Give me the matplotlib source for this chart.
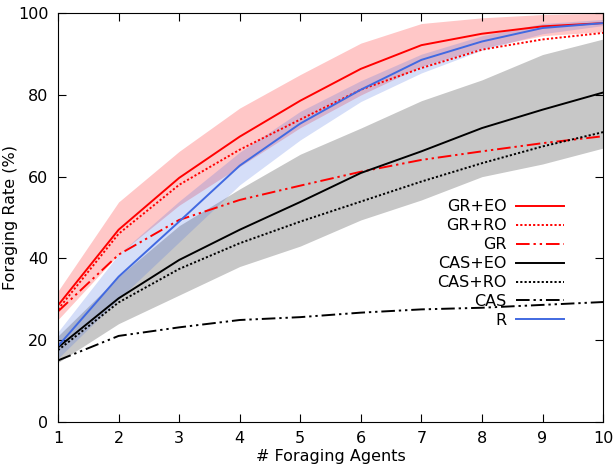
import matplotlib
matplotlib.use("Agg")
import matplotlib.pyplot as plt
import numpy as np

agents = [1, 2, 3, 4, 5, 6, 7, 8, 9, 10]

gr_eo = [28.5, 47.0, 59.7, 69.8, 78.6, 86.4, 92.2, 95.0, 96.8, 97.6]
gr_ro = [27.5, 46.0, 58.0, 66.6, 74.0, 81.3, 86.6, 91.1, 93.6, 95.2]
gr = [27.0, 40.9, 49.4, 54.3, 57.8, 61.2, 64.1, 66.2, 68.2, 69.9]
cas_eo = [18.2, 30.2, 39.6, 47.0, 53.8, 60.9, 66.2, 71.9, 76.4, 80.6]
cas_ro = [17.5, 29.2, 37.4, 43.7, 49.0, 53.9, 58.8, 63.3, 67.4, 70.9]
cas = [15.0, 21.0, 23.1, 24.9, 25.6, 26.7, 27.5, 27.9, 28.6, 29.3]
r = [18.5, 35.5, 49.0, 62.7, 73.0, 81.3, 88.6, 93.1, 96.4, 97.6]

# shaded ranges
gr_eo_lo = [25.0, 41.0, 53.0, 62.5, 72.0, 80.0, 87.0, 91.5, 94.5, 95.5]
gr_eo_hi = [32.0, 53.8, 66.2, 76.8, 85.0, 92.7, 97.5, 98.9, 99.7, 100.0]
r_lo = [15.5, 30.0, 44.0, 58.0, 69.0, 78.4, 85.4, 91.0, 95.0, 97.0]
r_hi = [22.0, 41.0, 54.0, 66.0, 76.0, 83.5, 90.0, 94.5, 97.5, 98.5]
cas_eo_lo = [14.5, 24.0, 31.0, 38.0, 43.0, 49.4, 54.3, 60.0, 63.1, 67.0]
cas_eo_hi = [21.0, 35.5, 48.0, 57.0, 65.5, 71.9, 78.6, 83.7, 89.9, 93.7]

RED = "#ff0000"
BLUE = "#4169e1"
BLACK = "#000000"
dashdotdot = (0, (7, 2, 1.2, 2, 1.2, 2))
dotted = (0, (1.1, 1.1))

plt.rcParams["font.family"] = "DejaVu Sans"
fig = plt.figure(figsize=(6.16, 4.72), dpi=100)
ax = fig.add_axes([0.0942, 0.1066, 0.8848, 0.8652])

x = np.array(agents)
ax.fill_between(x, cas_eo_lo, cas_eo_hi, color=BLACK, alpha=0.22, lw=0)
ax.fill_between(x, gr_eo_lo, gr_eo_hi, color=RED, alpha=0.22, lw=0)
ax.fill_between(x, r_lo, r_hi, color=BLUE, alpha=0.22, lw=0)

lw = 1.4
ax.plot(x, gr_eo, color=RED, lw=lw, label="GR+EO")
ax.plot(x, gr_ro, color=RED, lw=lw, ls=dotted, label="GR+RO")
ax.plot(x, gr, color=RED, lw=lw, ls=dashdotdot, label="GR")
ax.plot(x, cas_eo, color=BLACK, lw=lw, label="CAS+EO")
ax.plot(x, cas_ro, color=BLACK, lw=lw, ls=dotted, label="CAS+RO")
ax.plot(x, cas, color=BLACK, lw=lw, ls=dashdotdot, label="CAS")
ax.plot(x, r, color=BLUE, lw=lw, label="R")

fs = 11.5
ax.set_xlim(1, 10)
ax.set_ylim(0, 100)
ax.set_xticks(agents)
ax.set_yticks([0, 20, 40, 60, 80, 100])
ax.tick_params(direction="in", top=True, right=True, length=6, labelsize=fs, pad=7)
ax.set_xlabel("# Foraging Agents", fontsize=fs, labelpad=2)
ax.set_ylabel("Foraging Rate (%)", fontsize=fs, labelpad=0)

ax.legend(loc="upper right", bbox_to_anchor=(0.928, 0.545), frameon=False,
          markerfirst=False, fontsize=fs, handlelength=3.0, handletextpad=0.6,
          labelspacing=0.25, borderpad=0, borderaxespad=0)

fig.savefig("out.png", dpi=100)
